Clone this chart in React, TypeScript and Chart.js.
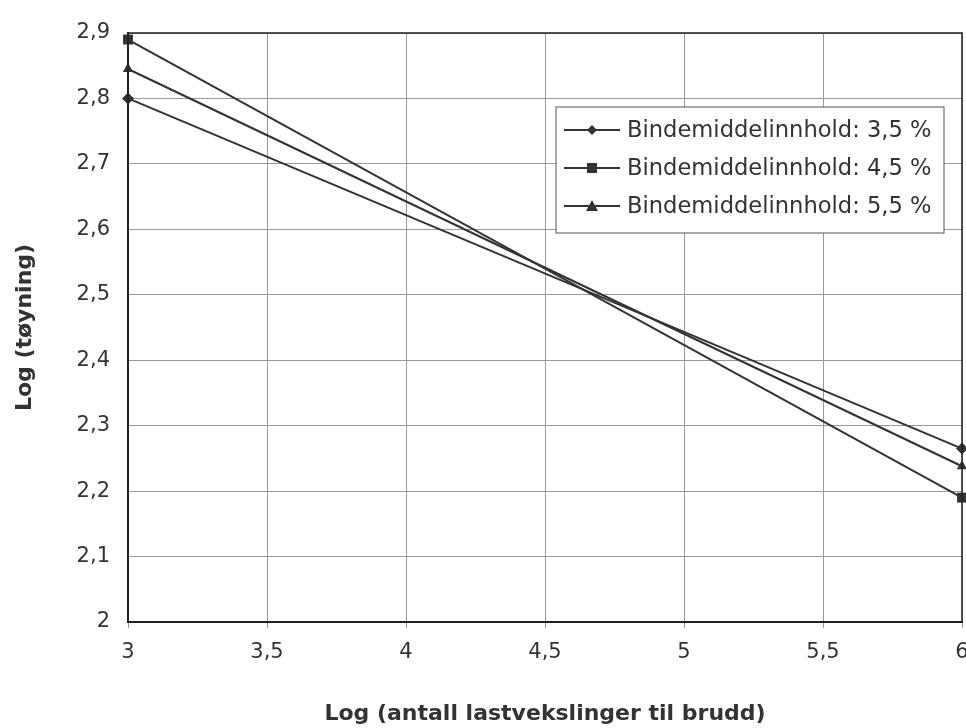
import React, { useEffect, useRef } from "react";
import { Chart, registerables } from "chart.js";

Chart.register(...registerables);

const xValues = [3, 6];
const series35 = [2.8, 2.265];
const series45 = [2.89, 2.19];
const series55 = [2.845, 2.238];
const seriesLabels = [
  "Bindemiddelinnhold: 3,5 %",
  "Bindemiddelinnhold: 4,5 %",
  "Bindemiddelinnhold: 5,5 %",
];
const markerStyles = ["rectRot", "rect", "triangle"];
const xTitle = "Log (antall lastvekslinger til brudd)";
const yTitle = "Log (tøyning)";

const FONT = "'DejaVu Sans', 'Liberation Sans', Arial, sans-serif";
const fmt = (v: number) => String(Math.round(v * 10) / 10).replace(".", ",");

const frameAndLegend = {
  id: "frameAndLegend",
  afterDatasetsDraw(chart: any) {
    const { ctx, chartArea } = chart;
    ctx.save();
    ctx.strokeStyle = "#222";
    ctx.lineWidth = 1.5;
    ctx.strokeRect(chartArea.left, chartArea.top, chartArea.right - chartArea.left, chartArea.bottom - chartArea.top);
    const bx = 556, by = 107, bw = 388, bh = 126;
    ctx.fillStyle = "#fff";
    ctx.fillRect(bx, by, bw, bh);
    ctx.strokeStyle = "#555";
    ctx.lineWidth = 1;
    ctx.strokeRect(bx, by, bw, bh);
    ctx.font = "22.6px " + FONT;
    ctx.textBaseline = "middle";
    chart.data.datasets.forEach((ds: any, i: number) => {
      const y = by + 23 + i * 38;
      ctx.strokeStyle = "#333";
      ctx.lineWidth = 2;
      ctx.beginPath();
      ctx.moveTo(bx + 8, y);
      ctx.lineTo(bx + 64, y);
      ctx.stroke();
      ctx.fillStyle = "#333";
      const cx = bx + 36;
      const st = ds.pointStyle;
      ctx.beginPath();
      if (st === "rectRot") {
        ctx.moveTo(cx, y - 5);
        ctx.lineTo(cx + 5, y);
        ctx.lineTo(cx, y + 5);
        ctx.lineTo(cx - 5, y);
      } else if (st === "rect") {
        ctx.rect(cx - 5, y - 5, 10, 10);
      } else {
        ctx.moveTo(cx, y - 6);
        ctx.lineTo(cx + 6, y + 5);
        ctx.lineTo(cx - 6, y + 5);
      }
      ctx.closePath();
      ctx.fill();
      ctx.fillStyle = "#333";
      ctx.textAlign = "left";
      ctx.fillText(ds.label, bx + 71, y + 1);
    });
    ctx.restore();
  },
};

const noPad = () => ({ left: 0, right: 0, top: 0, bottom: 0 });

export default function App() {
  const ref = useRef<HTMLCanvasElement>(null);
  useEffect(() => {
    document.body.style.margin = "0";
    const mk = (vals: number[], i: number) => ({
      label: seriesLabels[i],
      data: xValues.map((x, j) => ({ x, y: vals[j] })),
      borderColor: "#333",
      backgroundColor: "#333",
      borderWidth: 2,
      pointStyle: markerStyles[i],
      pointRadius: i === 1 ? 7 : 6,
      pointBorderWidth: 0,
      clip: false as any,
    });
    const chart = new Chart(ref.current!, {
      type: "scatter",
      data: {
        datasets: [mk(series35, 0), mk(series45, 1), mk(series55, 2)],
      },
      options: {
        animation: false,
        responsive: false,
        showLine: true,
        layout: { autoPadding: false, padding: { top: 33, right: 4, left: 0, bottom: 0 } },
        plugins: { legend: { display: false }, tooltip: { enabled: false } },
        scales: {
          x: {
            type: "linear",
            min: 3,
            max: 6,
            ticks: {
              stepSize: 0.5,
              padding: 12,
              color: "#333",
              font: { family: FONT, size: 21 },
              callback: (v: any) => fmt(Number(v)),
              maxRotation: 0,
            },
            grid: { color: "#999", lineWidth: 1, tickLength: 6 },
            border: { color: "#222", width: 2 },
            title: {
              display: true,
              text: xTitle,
              color: "#333",
              font: { family: FONT, size: 22, weight: "bold" },
              padding: { top: 0, bottom: 1 },
            },
            afterFit: (s: any) => {
              s.height = 106;
              s.paddingRight = 0;
              s.paddingLeft = 0;
              s.getPadding = noPad;
            },
          } as any,
          y: {
            type: "linear",
            min: 2,
            max: 2.9,
            ticks: {
              stepSize: 0.1,
              padding: 18,
              color: "#333",
              font: { family: FONT, size: 21 },
              callback: (v: any) => fmt(Number(v)),
            },
            grid: { color: "#999", lineWidth: 1, tickLength: 0 },
            border: { color: "#222", width: 2 },
            title: {
              display: true,
              text: yTitle,
              color: "#333",
              font: { family: FONT, size: 22, weight: "bold" },
              padding: { top: 12, bottom: 0 },
            },
            afterFit: (s: any) => {
              s.width = 128;
              s.paddingTop = 0;
              s.paddingBottom = 0;
              s.getPadding = noPad;
            },
          } as any,
        },
      },
      plugins: [frameAndLegend],
    });
    return () => chart.destroy();
  }, []);
  return (
    <div style={{ width: 966, height: 728, background: "#fff" }}>
      <canvas ref={ref} width={966} height={728} style={{ display: "block" }} />
    </div>
  );
}
